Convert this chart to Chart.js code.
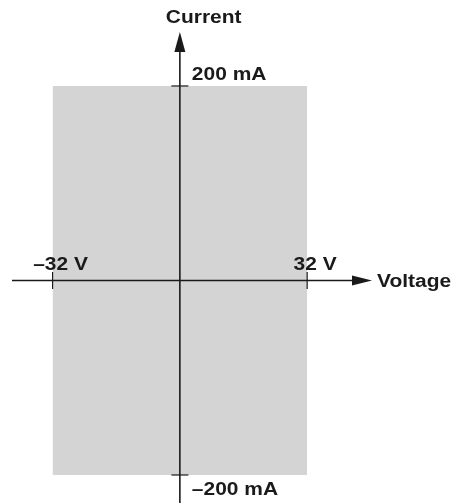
<!DOCTYPE html>
<html>
<head>
<meta charset="utf-8">
<script src="https://cdn.jsdelivr.net/npm/chart.js@4/dist/chart.umd.min.js"></script>
<style>
  html, body { margin: 0; padding: 0; background: #ffffff; }
  #wrap { position: relative; width: 457px; height: 503px; }
</style>
</head>
<body>
<div id="wrap"><canvas id="c"></canvas></div>
<script>
// ---- data ----
const voltageLimits = [-32, 32];          // V
const currentLimits = [-200, 200];        // mA
const xTickValues = [-32, 32];
const xTickLabels = ['–32 V', '32 V'];
const yTickValues = [200, -200];
const yTickLabels = ['200 mA', '–200 mA'];
const xAxisTitle = 'Voltage';
const yAxisTitle = 'Current';

const FONT = 'bold 18px "Liberation Sans", Arial, sans-serif';
const SX = 1.164; // horizontal stretch of the lettering

function drawText(ctx, txt, x, y, align) {
  ctx.save();
  ctx.font = FONT;
  ctx.textBaseline = 'alphabetic';
  ctx.textAlign = 'left';
  const w = ctx.measureText(txt).width * SX;
  let left = x;
  if (align === 'center') left = x - w / 2;
  ctx.translate(left, y);
  ctx.scale(SX, 1);
  ctx.fillStyle = '#1a1a1a';
  ctx.fillText(txt, 0, 0);
  ctx.restore();
}

const axesPlugin = {
  id: 'quadrantAxes',
  afterDatasetsDraw(chart) {
    const ctx = chart.ctx;
    const xs = chart.scales.x, ys = chart.scales.y;
    const area = chart.chartArea;
    const ax = xs.getPixelForValue(0);
    const ay = ys.getPixelForValue(0);
    ctx.save();
    ctx.strokeStyle = '#1a1a1a';
    ctx.fillStyle = '#1a1a1a';
    ctx.lineWidth = 1.6;
    // horizontal axis
    ctx.beginPath();
    ctx.moveTo(area.left, ay);
    ctx.lineTo(area.right - 10, ay);
    ctx.stroke();
    // arrow right
    ctx.beginPath();
    ctx.moveTo(area.right, ay);
    ctx.lineTo(area.right - 20, ay - 5);
    ctx.lineTo(area.right - 20, ay + 5);
    ctx.closePath();
    ctx.fill();
    // vertical axis
    ctx.beginPath();
    ctx.moveTo(ax, area.bottom);
    ctx.lineTo(ax, area.top + 10);
    ctx.stroke();
    ctx.beginPath();
    ctx.moveTo(ax, area.top);
    ctx.lineTo(ax - 5.5, area.top + 20);
    ctx.lineTo(ax + 5.5, area.top + 20);
    ctx.closePath();
    ctx.fill();
    // ticks
    ctx.lineWidth = 1.2;
    xTickValues.forEach(v => {
      const px = xs.getPixelForValue(v);
      ctx.beginPath();
      ctx.moveTo(px, ay - 8.5);
      ctx.lineTo(px, ay + 8.5);
      ctx.stroke();
    });
    yTickValues.forEach(v => {
      const py = ys.getPixelForValue(v);
      ctx.beginPath();
      ctx.moveTo(ax - 8.5, py);
      ctx.lineTo(ax + 8.5, py);
      ctx.stroke();
    });
    ctx.restore();
    // tick labels
    xTickValues.forEach((v, i) => {
      const px = xs.getPixelForValue(v);
      drawText(ctx, xTickLabels[i], px + 8, ay - 10, 'center');
    });
    yTickValues.forEach((v, i) => {
      const py = ys.getPixelForValue(v);
      const base = v > 0 ? py - 6 : py + 20;
      drawText(ctx, yTickLabels[i], ax + 12, base, 'left');
    });
    // axis titles
    drawText(ctx, yAxisTitle, ax - 14, 23, 'left');
    drawText(ctx, xAxisTitle, area.right + 5, ay + 7, 'left');
  }
};

new Chart(document.getElementById('c'), {
  type: 'line',
  data: {
    datasets: [{
      data: [
        { x: voltageLimits[0], y: currentLimits[1] },
        { x: voltageLimits[1], y: currentLimits[1] }
      ],
      fill: { value: currentLimits[0] },
      backgroundColor: '#d4d4d5',
      borderWidth: 0,
      borderColor: 'rgba(0,0,0,0)',
      pointRadius: 0,
      tension: 0
    }]
  },
  options: {
    responsive: true,
    maintainAspectRatio: false,
    animation: false,
    devicePixelRatio: 1,
    layout: { padding: { left: 12, right: 85, top: 32, bottom: 0 } },
    plugins: { legend: { display: false }, tooltip: { enabled: false } },
    scales: {
      x: { type: 'linear', min: -42.2, max: 48.3, display: false },
      y: { type: 'linear', min: -228.8, max: 255.5, display: false }
    }
  },
  plugins: [axesPlugin]
});
</script>
</body>
</html>
